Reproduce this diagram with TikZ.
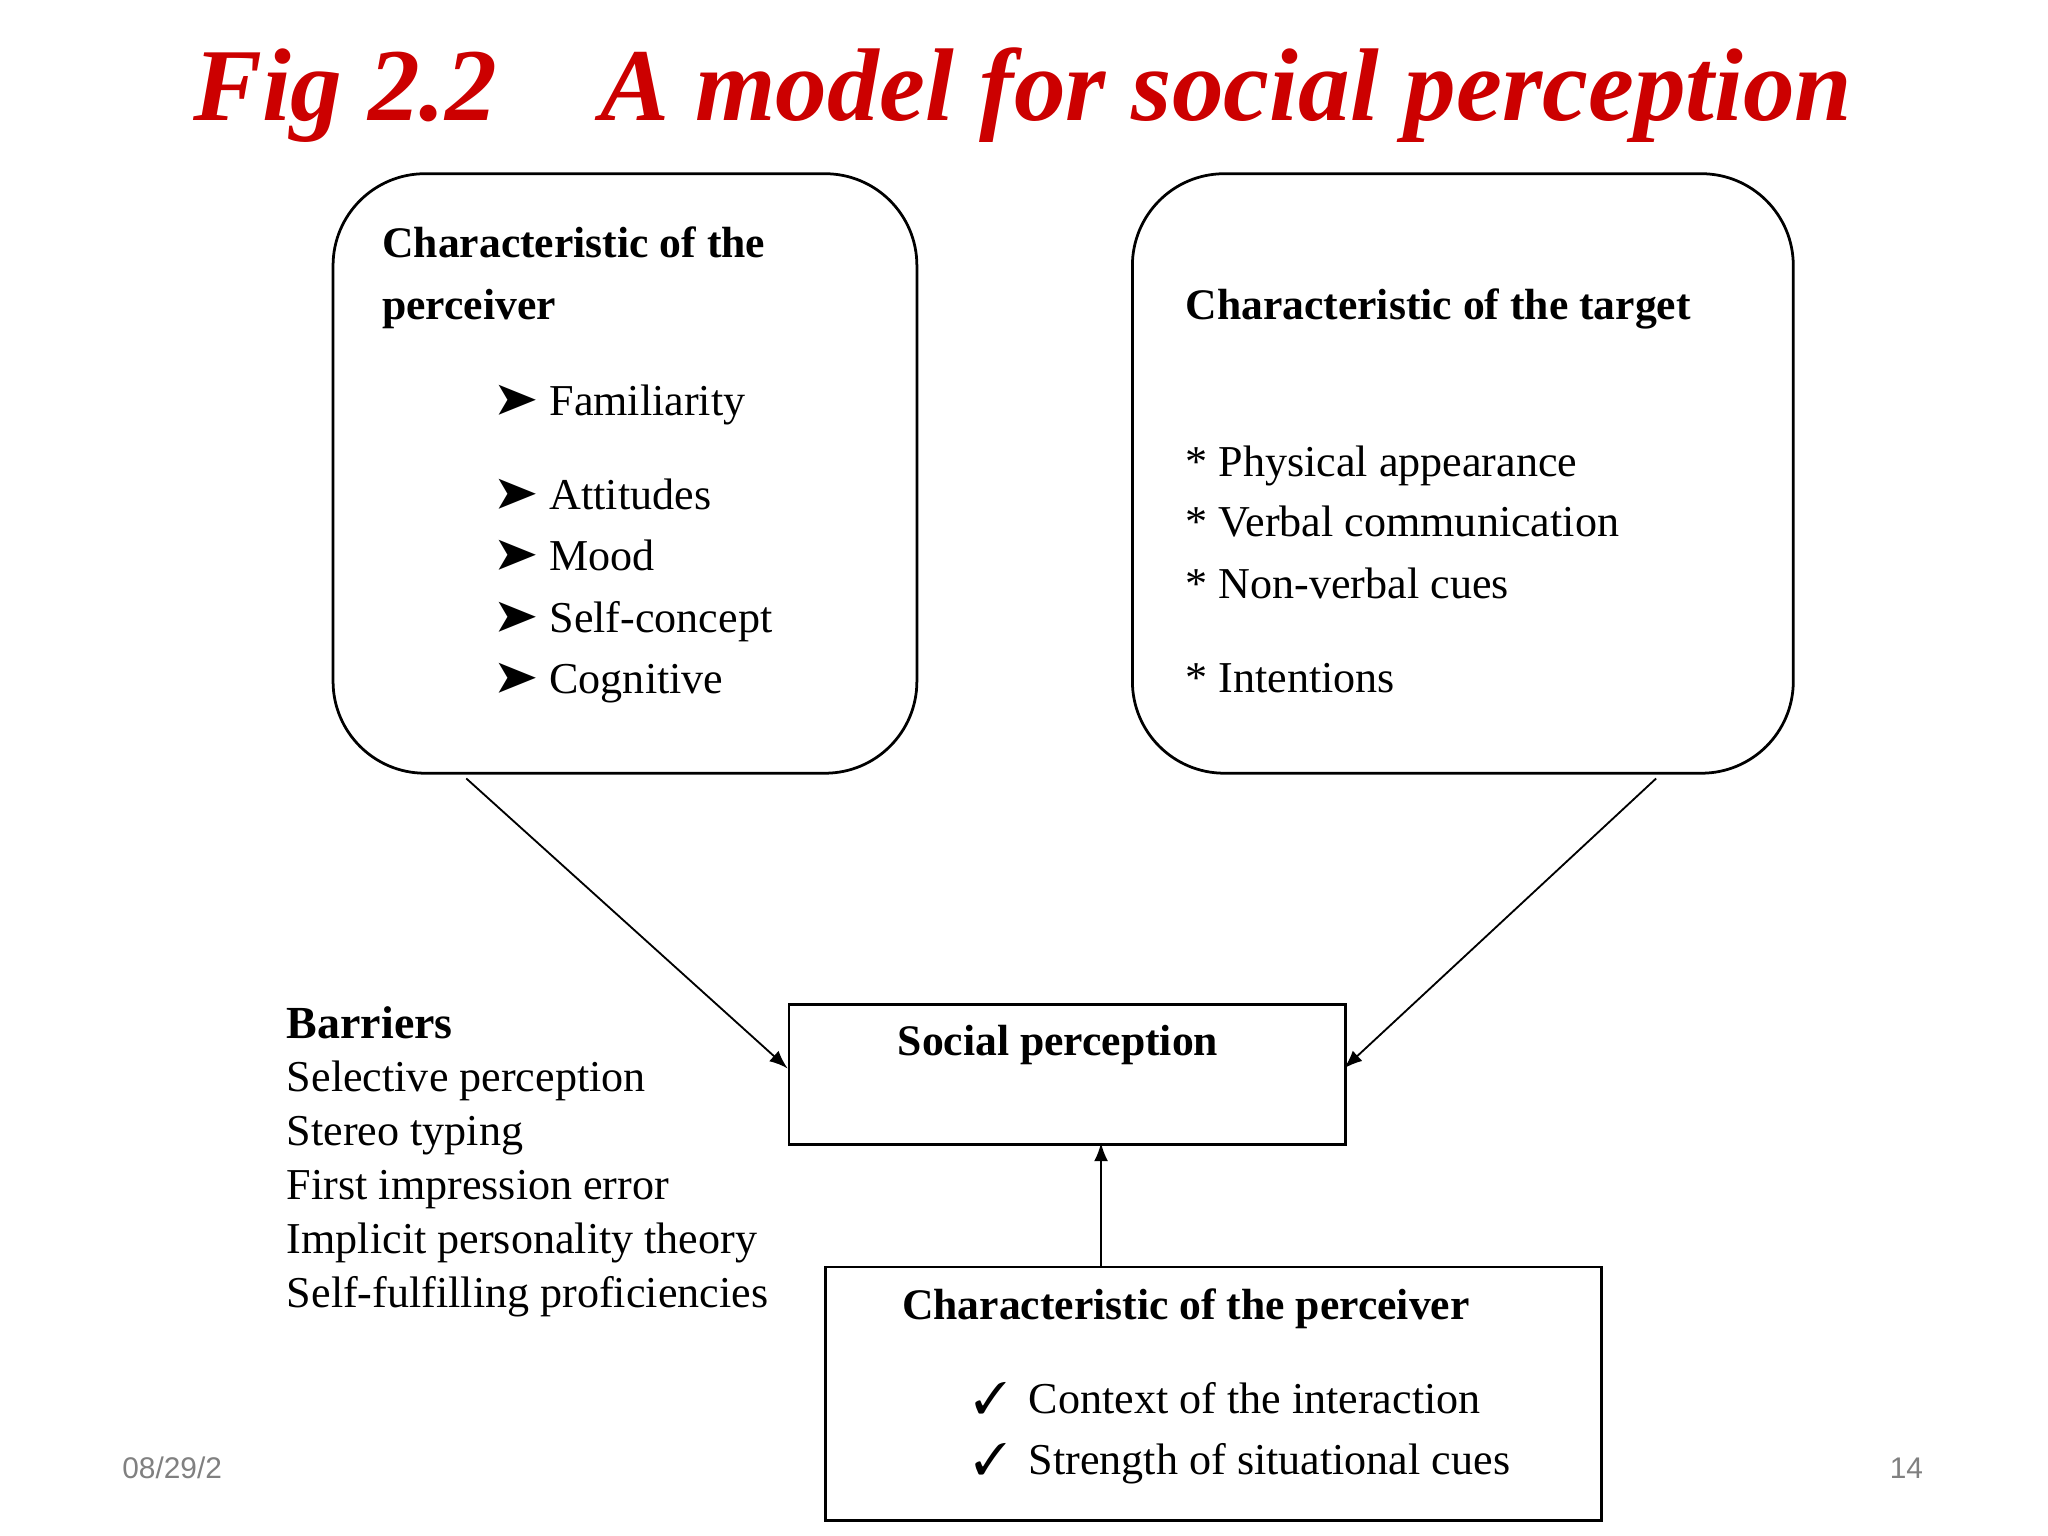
\documentclass[tikz,border=0pt]{standalone}
\usepackage{fontspec}
\setmainfont{Liberation Serif}
\newfontfamily\sansf{Liberation Sans}
\usepackage{pifont}
\begin{document}
\begin{tikzpicture}[x=0.01cm,y=-0.01cm,
  txt/.style={anchor=base west,inner sep=0,font=\fontsize{9.6}{12}\selectfont},
  hdr/.style={anchor=base west,inner sep=0,font=\fontsize{9.5}{12}\selectfont\bfseries},
  rbox/.style={draw,line width=0.6pt,rounded corners=20pt},
  sbox/.style={draw,line width=0.6pt,inner sep=0,anchor=north west},
  arr/.style={-latex,line width=0.4pt}]
\useasboundingbox (0,0) rectangle (1568,1176);
\node[anchor=base,inner sep=0,text=red!80!black,font=\fontsize{22.5}{27}\selectfont\bfseries\itshape] (title) at (783,92) {Fig 2.2\quad A model for social perception};
% boxes
\draw[rbox] (255,133) rectangle (702,592);
\draw[rbox] (867,133) rectangle (1373,592);
\node[sbox,minimum width=4.26cm,minimum height=1.07cm] (sp) at (603,768) {};
\node[sbox,minimum width=5.94cm,minimum height=1.94cm] (cp) at (631,969) {};
\coordinate (a1) at (357,596);
\coordinate (a2) at (1268,596);
\coordinate (spl) at (603,818);
\coordinate (spr) at (1029,818);
\coordinate (c1) at (843,969);
\coordinate (c2) at (843,875);
\draw[arr] (a1) -- (spl);
\draw[arr] (a2) -- (spr);
\draw[arr] (c1) -- (c2);
% perceiver box
\node[hdr] (h1) at (292,197) {Characteristic of the};
\node[hdr] (h2) at (292,245) {perceiver};
\foreach \y/\t in {318/Familiarity,390/Attitudes,437/Mood,484/Self-concept,531/Cognitive}{
  \node[txt] at (380,\y) {\ding{228}};
  \node[txt] at (420,\y) {\t};
}
% target box
\node[hdr] (h3) at (907,245) {Characteristic of the target};
\foreach \y/\t in {365/Physical appearance,411/Verbal communication,458/Non-verbal cues,530/Intentions}{
  \node[txt] at (907,\y) {* \t};
}
% barriers
\node[hdr,font=\fontsize{10}{12}\selectfont\bfseries] at (219,795) {Barriers};
\foreach \y/\t in {836/Selective perception,877/Stereo typing,918/First impression error,960/Implicit personality theory,1001/Self-fulfilling proficiencies}{
  \node[txt] at (219,\y) {\t};
}
\node[anchor=base,inner sep=0,font=\fontsize{9.5}{12}\selectfont\bfseries] at (810,808) {Social perception};
\node[hdr] at (690,1010) {Characteristic of the perceiver};
\node[txt] at (745,1082) {\ding{51}};
\node[txt] at (787,1082) {Context of the interaction};
\node[txt] at (745,1129) {\ding{51}};
\node[txt] at (787,1129) {Strength of situational cues};
\node[anchor=base west,inner sep=0,text=gray,font=\sansf\fontsize{6.5}{8}\selectfont] at (93,1132) {08/29/2};
\node[anchor=base east,inner sep=0,text=gray,font=\sansf\fontsize{6.5}{8}\selectfont] at (1473,1132) {14};
\end{tikzpicture}
\end{document}
